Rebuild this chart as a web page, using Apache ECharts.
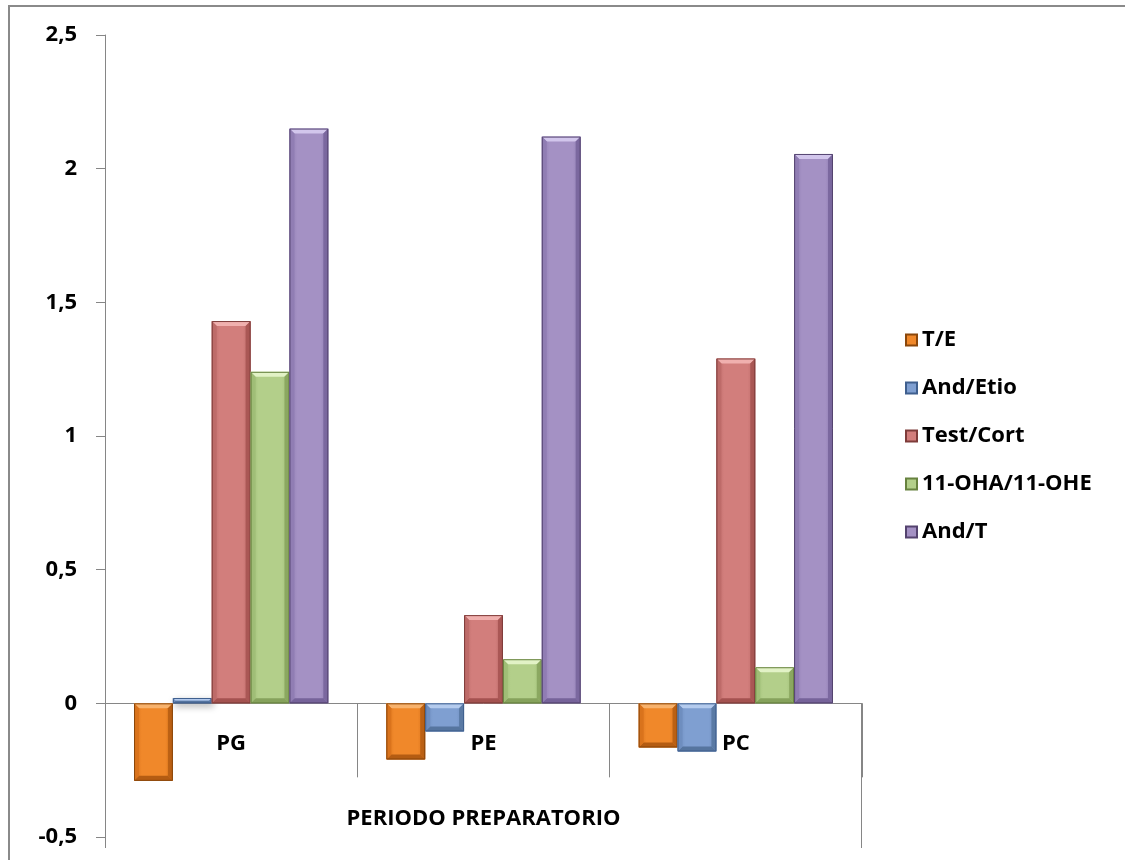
<!DOCTYPE html>
<html>
<head>
<meta charset="utf-8">
<script src="https://cdn.jsdelivr.net/npm/echarts@6/dist/echarts.min.js"></script>
<style>
  html, body { margin: 0; padding: 0; background: #fff; }
  #chart { width: 1125px; height: 860px; }
</style>
</head>
<body>
<div id="chart"></div>
<script>
// Groups on the x axis and the shared period label under them
const categories = ['PG', 'PE', 'PC'];
const periodLabel = 'PERIODO PREPARATORIO';

// Hormonal ratios per group
const seriesNames = ['T/E', 'And/Etio', 'Test/Cort', '11-OHA/11-OHE', 'And/T'];
const valuesTE = [-0.29, -0.21, -0.165];
const valuesAndEtio = [0.02, -0.105, -0.18];
const valuesTestCort = [1.43, 0.33, 1.29];
const valuesOHA = [1.24, 0.165, 0.135];
const valuesAndT = [2.15, 2.12, 2.055];

// Value axis ticks
const yMin = -0.5;
const yMax = 2.5;
const yStep = 0.5;

const seriesValues = [valuesTE, valuesAndEtio, valuesTestCort, valuesOHA, valuesAndT];

// Bevelled bar colours: body, light top, dark bottom, side, outline
const palette = [
  { body: '#F0882A', top: '#F8B26C', bottom: '#B45C12', side: '#D8721C', line: '#8A470B' },
  { body: '#7F9FD1', top: '#B4CBEE', bottom: '#56759F', side: '#6E8DBE', line: '#3F5F8E' },
  { body: '#D27E7C', top: '#F0B0AE', bottom: '#A45250', side: '#BC6A68', line: '#7E3C3A' },
  { body: '#B3CF8A', top: '#E2F2C6', bottom: '#86A25C', side: '#9FBD76', line: '#67823F' },
  { body: '#A491C4', top: '#D2C6EC', bottom: '#76639A', side: '#8F7CB2', line: '#54436F' }
];

const FONT = 'Open Sans';
const FS = 22;
const CATEGORY_GAP = 0.23;  // share of each band left empty around the bar group
const BEVEL = 5;

const chart = echarts.init(document.getElementById('chart'), null, { renderer: 'canvas' });

const GRID = { left: 105, right: 263, top: 35, bottom: 23 };

function makeRenderItem(seriesIdx) {
  const c = palette[seriesIdx];
  return function (params, api) {
    const cat = api.value(0);
    const val = api.value(1);
    const center = api.coord([cat, 0]);
    const band = api.size([1, 0])[0];
    const groupW = band * (1 - CATEGORY_GAP);
    const w = groupW / seriesNames.length;
    const x0 = center[0] - groupW / 2 + seriesIdx * w;
    const x1 = x0 + w;
    const yZero = center[1];
    const yVal = api.coord([cat, val])[1];
    const yt = Math.min(yZero, yVal);
    const yb = Math.max(yZero, yVal);
    const h = yb - yt;
    const b = Math.min(BEVEL, h / 2, w / 2);

    const children = [
      {
        type: 'rect',
        shape: { x: x0, y: yt, width: w, height: h },
        style: {
          fill: new echarts.graphic.LinearGradient(0, 0, 1, 0, [
            { offset: 0, color: c.side },
            { offset: 0.2, color: c.body },
            { offset: 0.8, color: c.body },
            { offset: 1, color: c.side }
          ]),
          shadowBlur: 7,
          shadowOffsetX: 2,
          shadowOffsetY: 3,
          shadowColor: 'rgba(0,0,0,0.35)'
        }
      }
    ];
    if (b > 0.5) {
      children.push(
        {
          type: 'polygon',
          shape: { points: [[x0, yt], [x1, yt], [x1 - b, yt + b], [x0 + b, yt + b]] },
          style: { fill: c.top }
        },
        {
          type: 'polygon',
          shape: { points: [[x0, yb], [x1, yb], [x1 - b, yb - b], [x0 + b, yb - b]] },
          style: { fill: c.bottom }
        },
        {
          type: 'polygon',
          shape: { points: [[x0, yt], [x0 + b, yt + b], [x0 + b, yb - b], [x0, yb]] },
          style: { fill: c.side, opacity: 0.9 }
        },
        {
          type: 'polygon',
          shape: { points: [[x1, yt], [x1 - b, yt + b], [x1 - b, yb - b], [x1, yb]] },
          style: { fill: c.bottom, opacity: 0.85 }
        }
      );
    }
    children.push({
      type: 'rect',
      shape: { x: x0 + 0.5, y: yt + 0.5, width: w - 1, height: Math.max(h - 1, 0) },
      style: { fill: 'none', stroke: c.line, lineWidth: 1 }
    });
    return { type: 'group', children };
  };
}

const option = {
  animation: false,
  backgroundColor: '#ffffff',
  textStyle: { fontFamily: FONT },
  grid: {
    left: GRID.left, right: GRID.right, top: GRID.top, bottom: GRID.bottom,
    containLabel: false,
    outerBoundsMode: 'none'
  },
  legend: {
    orient: 'vertical',
    left: 900,
    top: 322,
    itemWidth: 11,
    itemHeight: 11,
    itemGap: 22,
    icon: 'rect',
    textStyle: { fontFamily: FONT, fontSize: FS, fontWeight: 'bold', color: '#000', lineHeight: 26 },
    data: seriesNames
  },
  xAxis: {
    type: 'category',
    data: categories,
    boundaryGap: true,
    axisLine: { onZero: true, lineStyle: { color: '#868686', width: 1 } },
    axisTick: { show: true, alignWithLabel: false, length: 74, lineStyle: { color: '#868686', width: 1 } },
    axisLabel: { show: false },
    splitLine: { show: false }
  },
  yAxis: {
    type: 'value',
    min: yMin,
    max: yMax,
    interval: yStep,
    axisLine: { show: true, lineStyle: { color: '#868686', width: 1 } },
    axisTick: { show: true, length: 9, lineStyle: { color: '#868686' } },
    splitLine: { show: false },
    axisLabel: {
      margin: 28,
      fontFamily: FONT,
      fontSize: FS,
      fontWeight: 'bold',
      color: '#000',
      formatter: v => String(v).replace('.', ',')
    }
  },
  series: seriesNames.map((name, i) => ({
    name,
    type: 'custom',
    renderItem: makeRenderItem(i),
    encode: { x: 0, y: 1 },
    data: seriesValues[i].map((v, j) => [j, v]),
    itemStyle: { color: palette[i].body, borderColor: palette[i].line, borderWidth: 1 },
    z: 2
  })),
  graphic: []
};

chart.setOption(option);

// Category labels, period label, frame and axis extensions,
// all placed from the grid's own coordinate system
const zeroY = chart.convertToPixel({ yAxisIndex: 0 }, 0);
const minY = chart.convertToPixel({ yAxisIndex: 0 }, yMin);
const leftX = GRID.left;
const rightX = 1125 - GRID.right;
const labelStyle = { fontFamily: FONT, fontSize: FS, fontWeight: 'bold', fill: '#000', align: 'center', verticalAlign: 'middle' };

const catLabels = categories.map(c => ({
  type: 'text',
  x: chart.convertToPixel({ xAxisIndex: 0 }, c),
  y: zeroY + 40,
  style: Object.assign({ text: c }, labelStyle),
  silent: true
}));

chart.setOption({
  graphic: catLabels.concat([
    {
      type: 'text',
      x: (leftX + rightX) / 2,
      y: minY - 18,
      style: Object.assign({ text: periodLabel }, labelStyle),
      silent: true
    },
    {
      type: 'rect',
      shape: { x: 9, y: 6, width: 1130, height: 870 },
      style: { fill: 'none', stroke: '#8A8A8A', lineWidth: 2 },
      silent: true
    },
    {
      type: 'line',
      shape: { x1: leftX + 0.5, y1: minY, x2: leftX + 0.5, y2: minY + 11 },
      style: { stroke: '#868686', lineWidth: 1 },
      silent: true
    },
    {
      type: 'line',
      shape: { x1: rightX - 0.5, y1: zeroY, x2: rightX - 0.5, y2: minY + 11 },
      style: { stroke: '#868686', lineWidth: 1 },
      silent: true
    }
  ])
});
</script>
</body>
</html>
